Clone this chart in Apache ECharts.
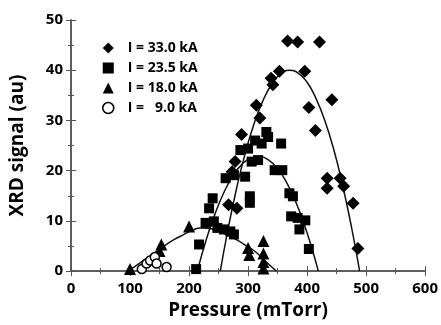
<!DOCTYPE html>
<html><head><meta charset="utf-8">
<script src="https://cdn.jsdelivr.net/npm/echarts@6/dist/echarts.min.js"></script>
<style>html,body{margin:0;padding:0;background:#fff}#c{width:441px;height:325px}</style>
</head><body><div id="c"></div>
<script>
// Measured data: [pressure (mTorr), XRD signal (au)]
const pts33 = [[367,45.8],[384,45.6],[421,45.6],[353,39.8],[396,39.8],[339,38.4],[342,37.1],[314,33],[320,30.5],[403,32.6],[442,34.1],[414,28],[289,27.2],[278,21.8],[273,19.8],[267,13.2],[281,12.5],[434,18.5],[434,16.5],[456,18.5],[462,16.9],[478,13.5],[486,4.5]];
const pts235 = [[331,27.7],[334,26.7],[312,26],[323,25.4],[356,25.4],[287,24.1],[300,24.4],[306,21.8],[317,22.1],[295,18.8],[262,18.5],[276,19.1],[345,20.1],[358,20.1],[240,14.5],[303,14.9],[303,13.6],[370,15.5],[376,14.9],[234,12.5],[228,9.6],[242,9.9],[248,8.6],[259,8.3],[270,7.9],[276,7.3],[373,10.9],[384,10.6],[397,10.1],[387,8.3],[403,4.4],[217,5.3],[212,0.4]];
const pts18 = [[100,0.4],[150,4],[153,5.3],[200,8.9],[300,4.6],[302,3.2],[326,6],[326,3.5],[326,1.8],[326,0.5]];
const pts9 = [[120,0.4],[128,1.5],[134,2.1],[142,2.8],[145,1.5],[162,0.8]];
// Fit curves
const fit33 = [[253,0],[265,7.7],[280,16.2],[295,23.4],[310,29.3],[325,33.9],[340,37.2],[355,39.3],[370,40],[385,39.4],[400,37.6],[415,34.4],[430,30],[445,24.3],[460,17.2],[475,8.9],[489,0]];
const fit235 = [[214,0],[230,6.6],[245,11.7],[260,15.9],[275,19.1],[290,21.3],[305,22.5],[320,22.8],[335,22.1],[350,20.4],[365,17.7],[380,14],[395,9.4],[410,3.8],[419,0]];
const fit18 = [[97,0],[125,2.3],[153,4.6],[175,6.3],[190,7.2],[205,8.1],[220,8.6],[240,8.4],[260,7.4],[281,6.2],[300,4.8],[314,3.7],[330,1.9],[348,0]];
const legendNames = ['I = 33.0 kA','I = 23.5 kA','I = 18.0 kA','I =   9.0 kA'];
const xTicks = [0,100,200,300,400,500,600];
const yTicks = [0,10,20,30,40,50];

const F = '"Open Sans", "Liberation Sans", sans-serif';
const axisLine = {show:true, lineStyle:{color:'#555', width:1.5}};
function xa(pos, labels){
  return {type:'value', position:pos, min:0, max:600, interval:100,
    axisLine:axisLine, axisTick:{show:true, inside:true, length:5, lineStyle:{color:'#555'}},
    minorTick:{show:true, splitNumber:2, length:3, lineStyle:{color:'#555'}},
    splitLine:{show:false},
    axisLabel:{show:labels, margin:10, color:'#000', fontFamily:F, fontWeight:'bold', fontSize:15,
      formatter:v=>xTicks.includes(v)?String(v):''},
    name: labels?'Pressure (mTorr)':'', nameLocation:'middle', nameGap:29,
    nameTextStyle:{color:'#000', fontFamily:F, fontWeight:'bold', fontSize:19}};
}
function ya(pos, labels){
  return {type:'value', position:pos, min:0, max:50, interval:10,
    axisLine:axisLine, axisTick:{show:true, inside:true, length:5, lineStyle:{color:'#555'}},
    minorTick:{show:true, splitNumber:2, length:3, lineStyle:{color:'#555'}},
    splitLine:{show:false},
    axisLabel:{show:labels, margin:8, color:'#000', fontFamily:F, fontWeight:'bold', fontSize:15,
      formatter:v=>yTicks.includes(v)?String(v):''},
    name: labels?'XRD signal (au)':'', nameLocation:'middle', nameGap:44,
    nameTextStyle:{color:'#000', fontFamily:F, fontWeight:'bold', fontSize:19}};
}
const sc = (name, data, symbol, size, style) => ({type:'scatter', name, data, symbol, symbolSize:size,
  itemStyle:style||{color:'#000', opacity:1}, z:3});
const ln = (data) => ({type:'line', data, smooth:0.5, showSymbol:false, symbol:'none', lineStyle:{color:'#111', width:1.5}, z:2, silent:true});
const hollow = {color:'#fff', borderColor:'#000', borderWidth:1.5, opacity:1};

const chart = echarts.init(document.getElementById('c'), null, {renderer:'canvas'});
chart.setOption({
  animation:false,
  backgroundColor:'#fff',
  grid:{left:70, right:13, top:20, bottom:52},
  xAxis:[xa('bottom', true), xa('top', false)],
  yAxis:[ya('left', true), ya('right', false)],
  legend:{orient:'vertical', left:97, top:36, itemWidth:11, itemHeight:11, itemGap:6,
    data:[
      {name:legendNames[0], icon:'diamond'},
      {name:legendNames[1], icon:'rect'},
      {name:legendNames[2], icon:'triangle'},
      {name:legendNames[3], icon:'circle', itemStyle:hollow}
    ],
    textStyle:{color:'#000', fontFamily:F, fontWeight:'bold', fontSize:14, padding:[0,0,0,9]}},
  series:[
    ln(fit33), ln(fit235), ln(fit18),
    sc(legendNames[0], pts33, 'diamond', 13),
    sc(legendNames[1], pts235, 'rect', 10),
    sc(legendNames[2], pts18, 'triangle', 12),
    sc(legendNames[3], pts9, 'circle', 9, hollow)
  ]
});
</script></body></html>
